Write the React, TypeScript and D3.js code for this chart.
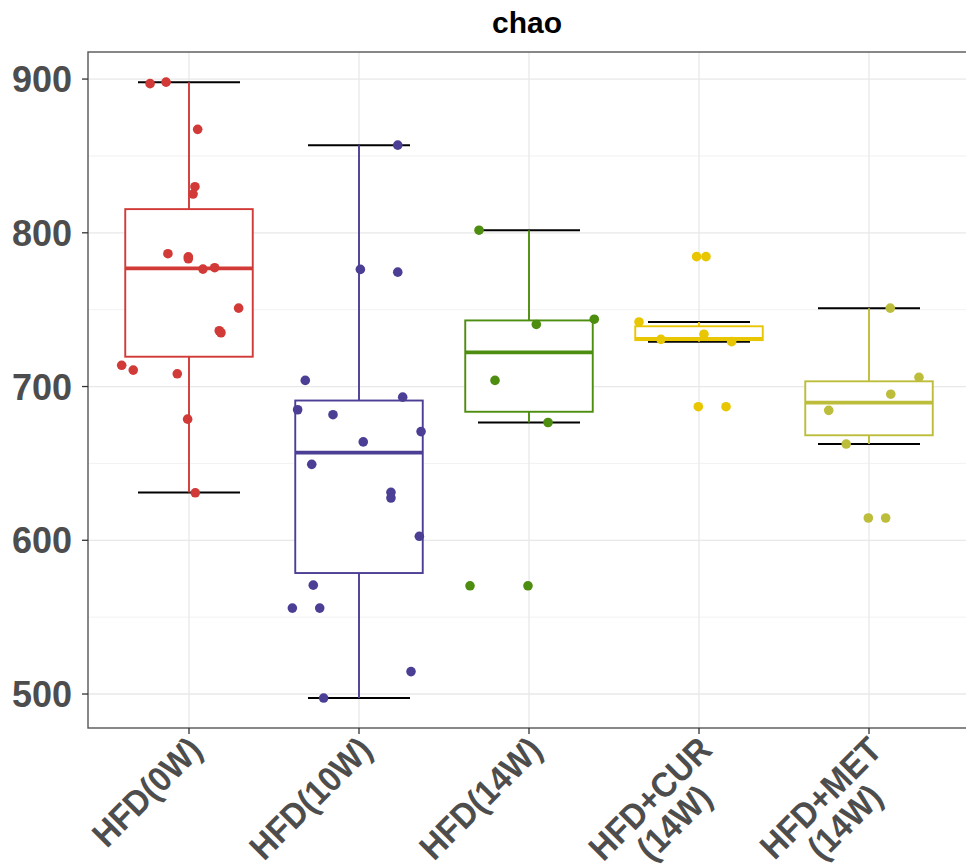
import React from "react";
import * as d3 from "d3";

const title = "chao";
const categories = ["HFD(0W)", "HFD(10W)", "HFD(14W)", "HFD+CUR (14W)", "HFD+MET (14W)"];
const categoryLines = [["HFD(0W)"], ["HFD(10W)"], ["HFD(14W)"], ["HFD+CUR", "(14W)"], ["HFD+MET", "(14W)"]];
const colors = ["#D13A37", "#4B3F95", "#4D8D0F", "#E8C602", "#BDBD3C"];
const yTicks = [500, 600, 700, 800, 900];
const yMinor = [550, 650, 750, 850];

// box statistics
const whiskerLow = [631, 497.4, 676.6, 729.2, 662.6];
const q1 = [719.4, 578.7, 683.6, 730.2, 668.3];
const median = [776.9, 657, 722.2, 731, 689.5];
const q3 = [815.4, 690.9, 743, 739.2, 703.4];
const whiskerHigh = [898, 857, 801.7, 742, 751];

// jittered points: values and horizontal jitter (in category units)
const values0 = [897, 898, 867.3, 830, 825.2, 786.4, 784.4, 783.1, 776.4, 777.3, 751, 736.3, 735, 713.8, 710.7, 708.3, 678.8, 630.9];
const jitter0 = [-0.229, -0.135, 0.051, 0.035, 0.024, -0.124, -0.004, -0.004, 0.082, 0.151, 0.292, 0.178, 0.188, -0.396, -0.328, -0.069, -0.008, 0.037];
const values1 = [857, 776.2, 774.4, 704, 693.1, 684.9, 681.7, 670.7, 664, 649.4, 631.2, 627.5, 602.6, 570.8, 555.9, 555.9, 514.6, 497.4];
const jitter1 = [0.228, 0.008, 0.228, -0.316, 0.257, -0.361, -0.153, 0.365, 0.025, -0.278, 0.188, 0.188, 0.355, -0.269, -0.392, -0.231, 0.306, -0.208];
const values2 = [801.7, 743.8, 740.4, 704, 676.6, 570.4, 570.4];
const jitter2 = [-0.294, 0.384, 0.043, -0.2, 0.112, -0.347, -0.006];
const values3 = [784.5, 784.5, 742, 734, 730.7, 729.2, 686.9, 686.9];
const jitter3 = [-0.014, 0.041, -0.353, 0.029, -0.224, 0.192, -0.004, 0.159];
const values4 = [751, 706, 695, 684.5, 662.6, 614.5, 614.5];
const jitter4 = [0.125, 0.294, 0.128, -0.237, -0.134, -0.004, 0.098];

const allValues = [values0, values1, values2, values3, values4];
const allJitter = [jitter0, jitter1, jitter2, jitter3, jitter4];

const W = 966;
const H = 867;
const panel = { left: 88, top: 52, bottom: 728, right: 970 };
const FONT = "'Liberation Sans', Arial, Helvetica, sans-serif";
const LABEL_SIZE = 35;

function measure(text: string, size: number): number {
  const c = document.createElement("canvas");
  const ctx = c.getContext("2d");
  if (!ctx) return text.length * size * 0.6;
  ctx.font = `bold ${size}px ${FONT}`;
  return ctx.measureText(text).width;
}

export default function App() {
  const y = d3.scaleLinear().domain([477.9, 917.6]).range([panel.bottom, panel.top]);
  const x = d3.scalePoint<string>().domain(categories).range([189, 869]);
  const step = x.step();
  const boxW = step * 0.75;
  const capW = step * 0.6;

  return (
    <svg width={W} height={H} style={{ position: "absolute", left: 0, top: 0, background: "#fff" }}>
      <defs>
        <clipPath id="panelClip">
          <rect x={panel.left} y={panel.top} width={panel.right - panel.left} height={panel.bottom - panel.top} />
        </clipPath>
      </defs>
      <rect x={0} y={0} width={W} height={H} fill="#fff" />
      <g clipPath="url(#panelClip)">
        {yMinor.map((v) => (
          <line key={"mn" + v} x1={panel.left} x2={panel.right} y1={y(v)} y2={y(v)} stroke="#F0F0F0" strokeWidth={0.9} />
        ))}
        {yTicks.map((v) => (
          <line key={"mj" + v} x1={panel.left} x2={panel.right} y1={y(v)} y2={y(v)} stroke="#E8E8E8" strokeWidth={1.3} />
        ))}
        {categories.map((c) => (
          <line key={"vx" + c} x1={x(c)} x2={x(c)} y1={panel.top} y2={panel.bottom} stroke="#E8E8E8" strokeWidth={1.3} />
        ))}
        {categories.map((c, i) => {
          const cx = x(c) as number;
          return (
            <g key={"box" + c}>
              <line x1={cx - capW / 2} x2={cx + capW / 2} y1={y(whiskerHigh[i])} y2={y(whiskerHigh[i])} stroke="#000" strokeWidth={2} />
              <line x1={cx - capW / 2} x2={cx + capW / 2} y1={y(whiskerLow[i])} y2={y(whiskerLow[i])} stroke="#000" strokeWidth={2} />
              <line x1={cx} x2={cx} y1={y(whiskerHigh[i])} y2={y(q3[i])} stroke={colors[i]} strokeWidth={1.9} />
              <line x1={cx} x2={cx} y1={y(q1[i])} y2={y(whiskerLow[i])} stroke={colors[i]} strokeWidth={1.9} />
              <rect x={cx - boxW / 2} y={y(q3[i])} width={boxW} height={y(q1[i]) - y(q3[i])} fill="#fff" stroke={colors[i]} strokeWidth={1.9} />
              <line x1={cx - boxW / 2} x2={cx + boxW / 2} y1={y(median[i])} y2={y(median[i])} stroke={colors[i]} strokeWidth={3.8} />
            </g>
          );
        })}
        {categories.map((c, i) => (
          <g key={"pts" + c}>
            {allValues[i].map((v, j) => (
              <circle key={j} cx={(x(c) as number) + allJitter[i][j] * step} cy={y(v)} r={4.8} fill={colors[i]} />
            ))}
          </g>
        ))}
      </g>
      <rect x={panel.left} y={panel.top} width={panel.right - panel.left} height={panel.bottom - panel.top} fill="none" stroke="#555" strokeWidth={1.4} />
      {yTicks.map((v) => (
        <g key={"yt" + v}>
          <line x1={panel.left - 6} x2={panel.left} y1={y(v)} y2={y(v)} stroke="#333" strokeWidth={1.3} />
          <text x={panel.left - 16} y={y(v)} dy="0.36em" textAnchor="end" fontFamily={FONT} fontWeight="bold" fontSize={36} fill="#4D4D4D">
            {v}
          </text>
        </g>
      ))}
      {categories.map((c, i) => {
        const cx = x(c) as number;
        const lines = categoryLines[i];
        const w1 = measure(lines[0], LABEL_SIZE);
        return (
          <g key={"xt" + c}>
            <line x1={cx} x2={cx} y1={panel.bottom} y2={panel.bottom + 6} stroke="#333" strokeWidth={1.3} />
            <g transform={`translate(${cx - 3},${panel.bottom + 6}) rotate(-45) scale(0.93,1)`}>
              {lines.map((ln, k) => (
                <text
                  key={k}
                  x={k === 0 ? 0 : -w1 / 2}
                  y={k * 34}
                  dy="0.72em"
                  textAnchor={k === 0 ? "end" : "middle"}
                  fontFamily={FONT}
                  fontWeight="bold"
                  fontSize={LABEL_SIZE}
                  fill="#4D4D4D"
                >
                  {ln}
                </text>
              ))}
            </g>
          </g>
        );
      })}
      <text x={(panel.left + 966) / 2} y={33} textAnchor="middle" fontFamily={FONT} fontWeight="bold" fontSize={30} fill="#000">
        {title}
      </text>
    </svg>
  );
}
